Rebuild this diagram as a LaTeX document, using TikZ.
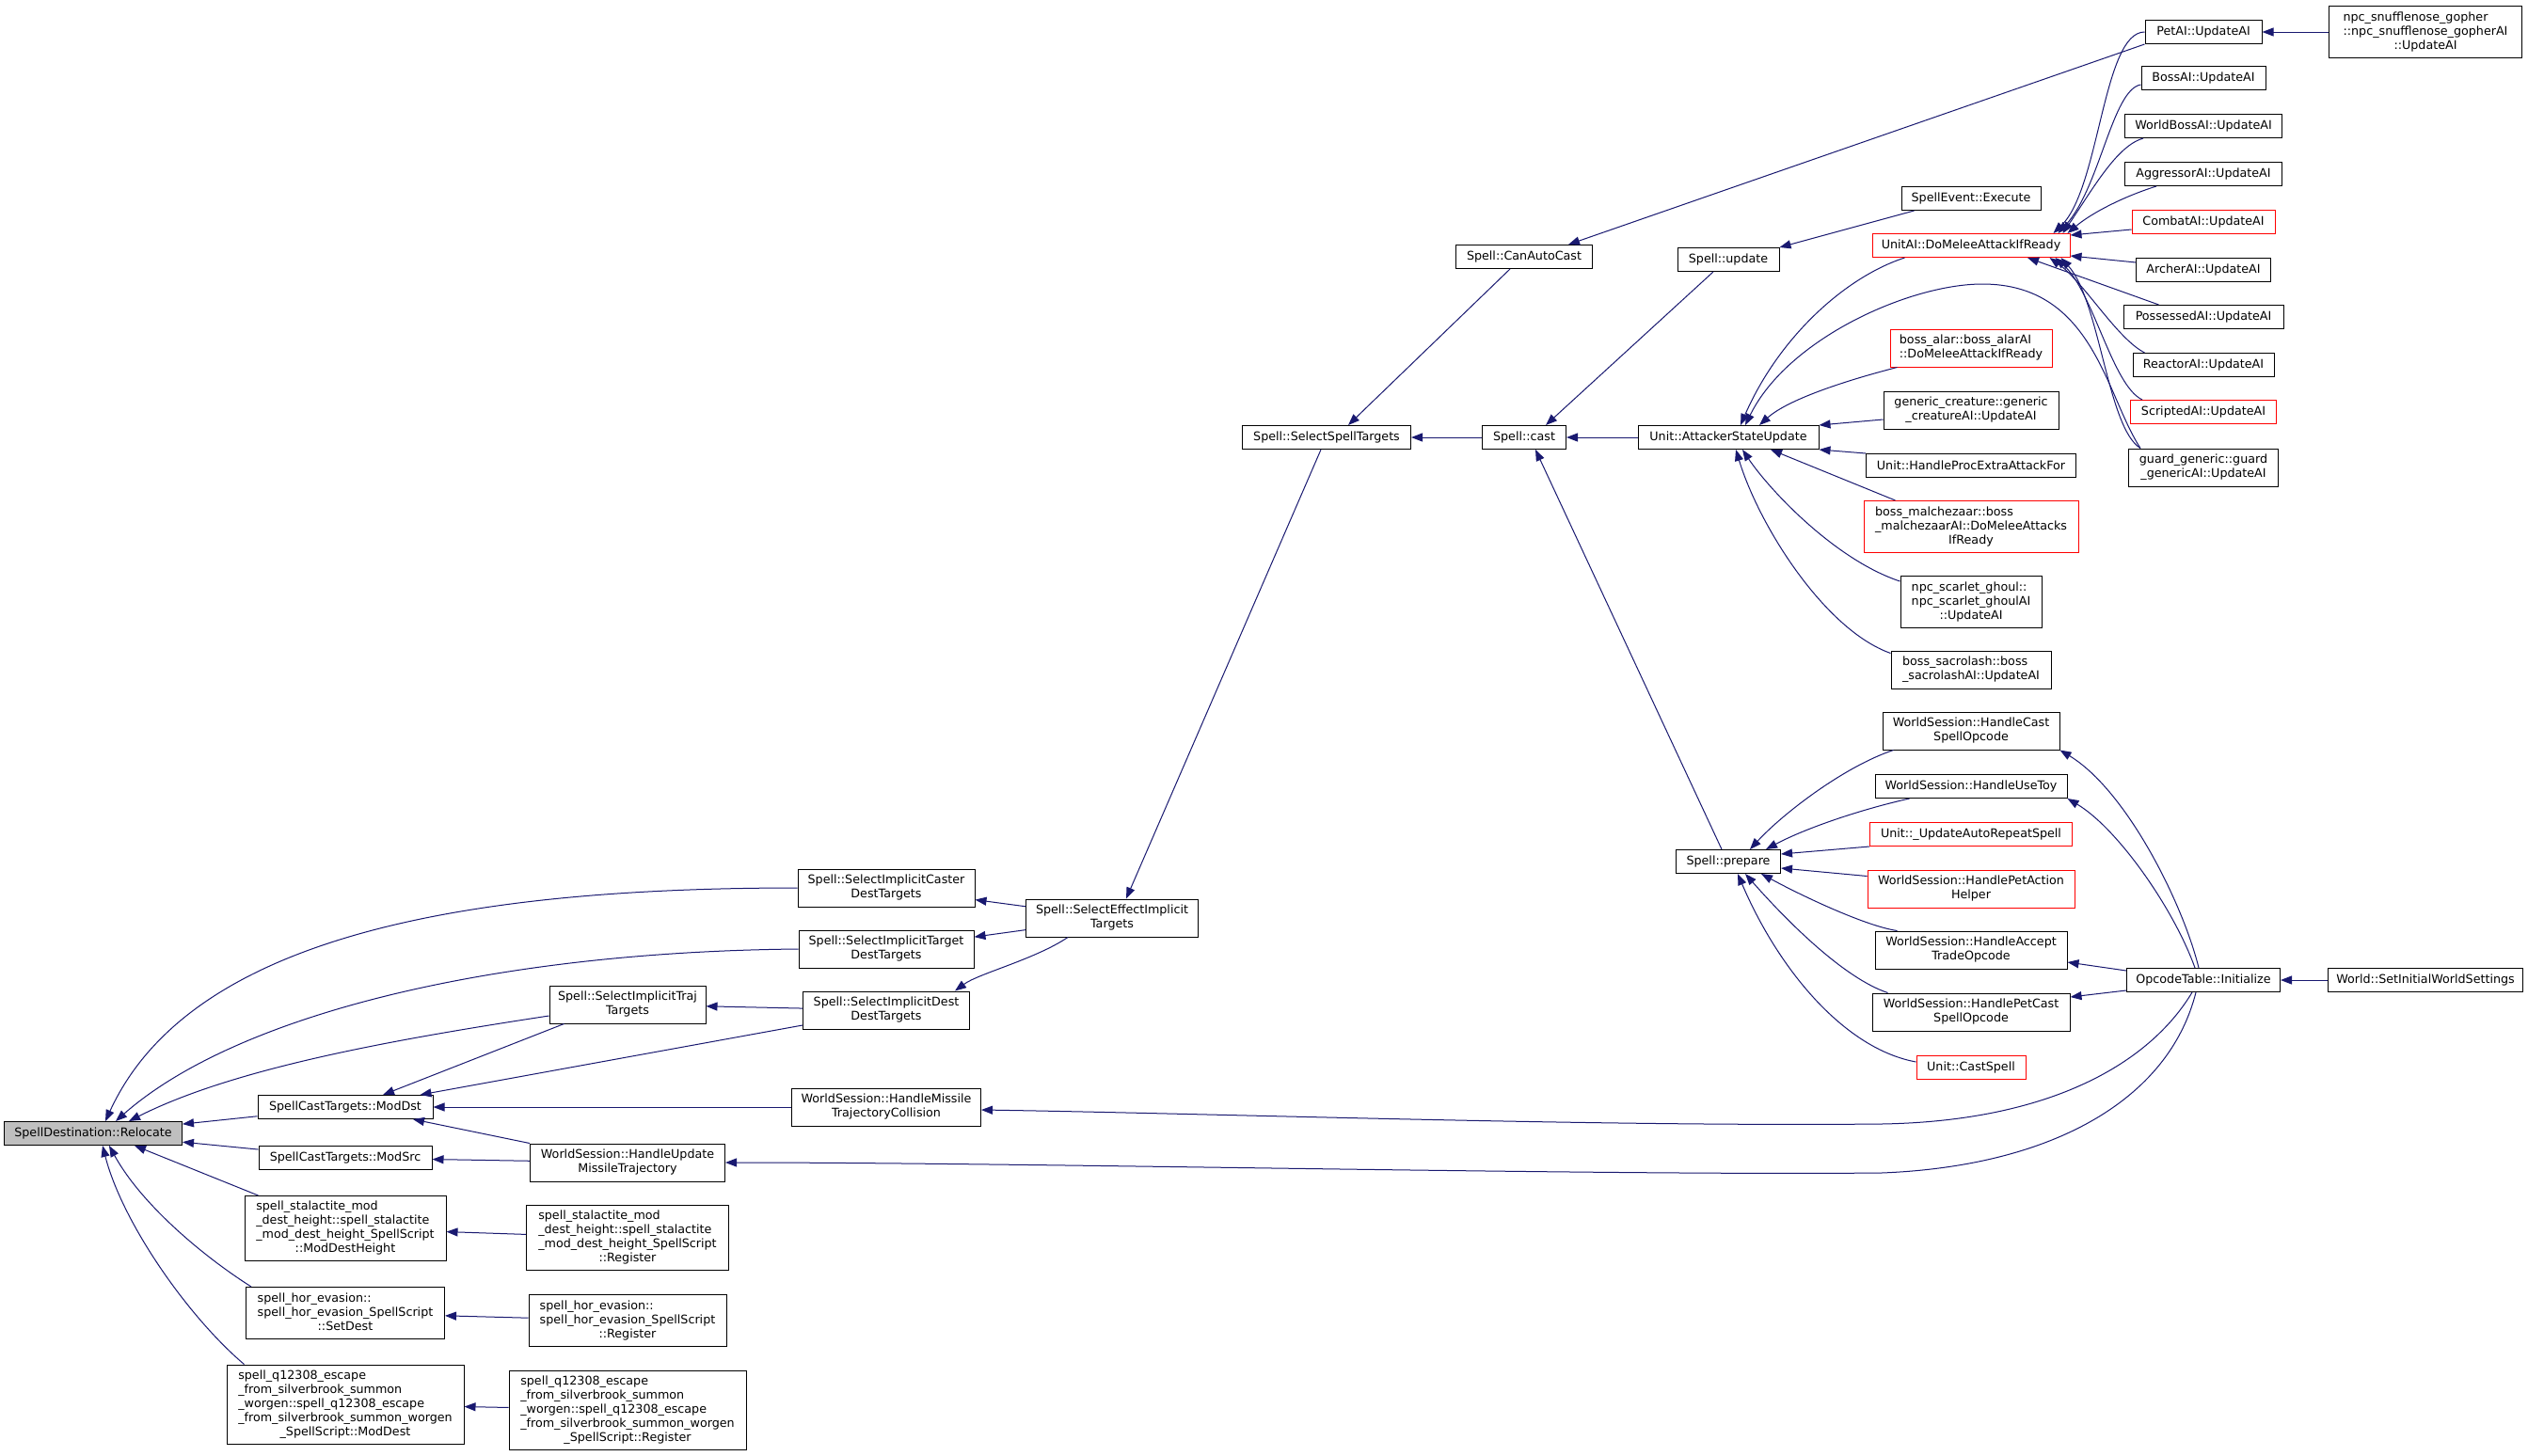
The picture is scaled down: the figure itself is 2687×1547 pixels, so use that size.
\documentclass[tikz,border=0pt]{standalone}
\usepackage{fontspec}
\setmainfont{DejaVu Sans}
\usetikzlibrary{arrows.meta}
\definecolor{edgeblue}{HTML}{191970}
\definecolor{rootgray}{HTML}{BFBFBF}
\newcommand{\fnlines}[2]{\begin{tabular}{@{}l@{}}#1\\\multicolumn{1}{@{}c@{}}{#2}\end{tabular}}
\tikzset{
  fn/.style={draw=black, line width=1pt, fill=white, inner xsep=4pt, inner ysep=0pt, minimum height=25pt, font=\fontsize{12.7}{15}\selectfont},
  trunc/.style={fn, draw=red},
  h2/.style={minimum height=40pt},
  h3/.style={minimum height=55pt},
  h4/.style={minimum height=69pt},
  h5/.style={minimum height=84pt},
  call/.style={draw=edgeblue, line width=1pt, -{Triangle[length=12pt,width=9pt]}}
}
\begin{document}
\begin{tikzpicture}[x=1pt, y=-1pt]
        \path[use as bounding box, fill=white] (0,0) rectangle (2687,1547);
        \node[fn, fill=rootgray, minimum width=189pt] (relocate) at (99,1205) {SpellDestination::Relocate};
        \node[fn, minimum width=186pt] (moddst) at (367,1177) {SpellCastTargets::ModDst};
        \node[fn, minimum width=184pt] (modsrc) at (367,1231) {SpellCastTargets::ModSrc};
        \node[fn, h4, minimum width=214pt] (stalheight) at (367,1306) {\fnlines{spell\_stalactite\_mod\\\_dest\_height::spell\_stalactite\\\_mod\_dest\_height\_SpellScript}{::ModDestHeight}};
        \node[fn, h4, minimum width=215pt] (stalreg) at (667,1316) {\fnlines{spell\_stalactite\_mod\\\_dest\_height::spell\_stalactite\\\_mod\_dest\_height\_SpellScript}{::Register}};
        \node[fn, h3, minimum width=211pt] (horset) at (367,1396) {\fnlines{spell\_hor\_evasion::\\spell\_hor\_evasion\_SpellScript}{::SetDest}};
        \node[fn, h3, minimum width=210pt] (horreg) at (667,1404) {\fnlines{spell\_hor\_evasion::\\spell\_hor\_evasion\_SpellScript}{::Register}};
        \node[fn, h5, minimum width=252pt] (qmod) at (367,1493) {\fnlines{spell\_q12308\_escape\\\_from\_silverbrook\_summon\\\_worgen::spell\_q12308\_escape\\\_from\_silverbrook\_summon\_worgen}{\_SpellScript::ModDest}};
        \node[fn, h5, minimum width=252pt] (qreg) at (667,1499) {\fnlines{spell\_q12308\_escape\\\_from\_silverbrook\_summon\\\_worgen::spell\_q12308\_escape\\\_from\_silverbrook\_summon\_worgen}{\_SpellScript::Register}};
        \node[fn, h2, minimum width=188pt] (caster) at (942,944) {\fnlines{Spell::SelectImplicitCaster}{DestTargets}};
        \node[fn, h2, minimum width=186pt] (target) at (942,1009) {\fnlines{Spell::SelectImplicitTarget}{DestTargets}};
        \node[fn, h2, minimum width=166pt] (traj) at (667,1068) {\fnlines{Spell::SelectImplicitTraj}{Targets}};
        \node[fn, h2, minimum width=177pt] (dest) at (942,1074) {\fnlines{Spell::SelectImplicitDest}{DestTargets}};
        \node[fn, h2, minimum width=201pt] (missilecol) at (942,1177) {\fnlines{WorldSession::HandleMissile}{TrajectoryCollision}};
        \node[fn, h2, minimum width=207pt] (missileupd) at (667,1236) {\fnlines{WorldSession::HandleUpdate}{MissileTrajectory}};
        \node[fn, h2, minimum width=183pt] (effect) at (1182,976) {\fnlines{Spell::SelectEffectImplicit}{Targets}};
        \node[fn, minimum width=179pt] (selspell) at (1410,465) {Spell::SelectSpellTargets};
        \node[fn, minimum width=145pt] (autocast) at (1620,273) {Spell::CanAutoCast};
        \node[fn, minimum width=89pt] (cast) at (1620,465) {Spell::cast};
        \node[fn, minimum width=108pt] (update) at (1837,276) {Spell::update};
        \node[fn, minimum width=192pt] (attacker) at (1837,465) {Unit::AttackerStateUpdate};
        \node[fn, minimum width=111pt] (prepare) at (1837,916) {Spell::prepare};
        \node[fn, minimum width=148pt] (event) at (2095,211) {SpellEvent::Execute};
        \node[trunc, minimum width=210pt] (unitai) at (2095,261) {UnitAI::DoMeleeAttackIfReady};
        \node[trunc, h2, minimum width=172pt] (alar) at (2095,370) {\fnlines{boss\_alar::boss\_alarAI}{::DoMeleeAttackIfReady}};
        \node[fn, h2, minimum width=186pt] (generic) at (2095,436) {\fnlines{generic\_creature::generic}{\_creatureAI::UpdateAI}};
        \node[fn, minimum width=223pt] (extra) at (2095,495) {Unit::HandleProcExtraAttackFor};
        \node[trunc, h3, minimum width=228pt] (malchezaar) at (2095,560) {\fnlines{boss\_malchezaar::boss\\\_malchezaarAI::DoMeleeAttacks}{IfReady}};
        \node[fn, h3, minimum width=150pt] (ghoul) at (2095,640) {\fnlines{npc\_scarlet\_ghoul::\\npc\_scarlet\_ghoulAI}{::UpdateAI}};
        \node[fn, h2, minimum width=170pt] (sacrolash) at (2095,712) {\fnlines{boss\_sacrolash::boss}{\_sacrolashAI::UpdateAI}};
        \node[fn, h2, minimum width=188pt] (wscast) at (2095,777) {\fnlines{WorldSession::HandleCast}{SpellOpcode}};
        \node[fn, minimum width=204pt] (usetoy) at (2095,836) {WorldSession::HandleUseToy};
        \node[trunc, minimum width=215pt] (autorepeat) at (2095,887) {Unit::\_UpdateAutoRepeatSpell};
        \node[trunc, h2, minimum width=220pt] (petaction) at (2095,945) {\fnlines{WorldSession::HandlePetAction}{Helper}};
        \node[fn, h2, minimum width=204pt] (accept) at (2095,1010) {\fnlines{WorldSession::HandleAccept}{TradeOpcode}};
        \node[fn, h2, minimum width=210pt] (petcast) at (2095,1076) {\fnlines{WorldSession::HandlePetCast}{SpellOpcode}};
        \node[trunc, minimum width=116pt] (castspell) at (2095,1135) {Unit::CastSpell};
        \node[fn, minimum width=124pt] (petai) at (2342,34) {PetAI::UpdateAI};
        \node[fn, minimum width=132pt] (bossai) at (2342,83) {BossAI::UpdateAI};
        \node[fn, minimum width=167pt] (worldboss) at (2342,134) {WorldBossAI::UpdateAI};
        \node[fn, minimum width=167pt] (aggressor) at (2342,185) {AggressorAI::UpdateAI};
        \node[trunc, minimum width=152pt] (combat) at (2342,236) {CombatAI::UpdateAI};
        \node[fn, minimum width=143pt] (archer) at (2342,287) {ArcherAI::UpdateAI};
        \node[fn, minimum width=170pt] (possessed) at (2342,337) {PossessedAI::UpdateAI};
        \node[fn, minimum width=150pt] (reactor) at (2342,388) {ReactorAI::UpdateAI};
        \node[trunc, minimum width=155pt] (scripted) at (2342,438) {ScriptedAI::UpdateAI};
        \node[fn, h2, minimum width=159pt] (guard) at (2342,497) {\fnlines{guard\_generic::guard}{\_genericAI::UpdateAI}};
        \node[fn, h3, minimum width=205pt] (gopher) at (2578,34) {\fnlines{npc\_snufflenose\_gopher\\::npc\_snufflenose\_gopherAI}{::UpdateAI}};
        \node[fn, minimum width=163pt] (opcode) at (2342,1042) {OpcodeTable::Initialize};
        \node[fn, minimum width=207pt] (world) at (2578,1042) {World::SetInitialWorldSettings};
        \draw[call] (caster.west) .. controls (480,944) and (200,1000) .. ([xshift=13pt]relocate.north);
        \draw[call] (target.west) .. controls (520,1012) and (250,1080) .. ([xshift=24pt]relocate.north);
        \draw[call] ([yshift=-12pt]traj.west) .. controls (420,1105) and (250,1135) .. ([xshift=38pt]relocate.north);
        \draw[call] (moddst) -- (relocate);
        \draw[call] (modsrc) -- (relocate);
        \draw[call] ([xshift=15pt]stalheight.north west) -- ([xshift=44pt]relocate.south);
        \draw[call] ([xshift=6pt]horset.north west) .. controls (215,1335) and (150,1280) .. ([xshift=17pt]relocate.south);
        \draw[call] ([xshift=19pt]qmod.north west) .. controls (200,1400) and (130,1300) .. ([xshift=10pt]relocate.south);
        \draw[call] (dest) -- (traj);
        \draw[call] ([xshift=16pt]traj.south west) -- ([xshift=40pt]moddst.north);
        \draw[call] ([yshift=-16pt]dest.west) -- ([xshift=-14pt]moddst.north east);
        \draw[call] (missilecol) -- (moddst);
        \draw[call] (missileupd.north west) -- ([xshift=72pt]moddst.south);
        \draw[call] (missileupd) -- (modsrc);
        \draw[call] (stalreg) -- (stalheight);
        \draw[call] (horreg) -- (horset);
        \draw[call] (qreg) -- (qmod);
        \draw[call] (effect) -- (caster);
        \draw[call] (effect) -- (target);
        \draw[call] ([xshift=-47pt]effect.south) .. controls (1100,1020) and (1040,1035) .. ([xshift=73pt]dest.north);
        \draw[call] ([xshift=-6pt]selspell.south) -- ([xshift=15pt]effect.north);
        \draw[call] ([xshift=-15pt]autocast.south) -- ([xshift=23pt]selspell.north);
        \draw[call] (cast) -- (selspell);
        \draw[call] ([xshift=-16pt]update.south) -- ([xshift=23pt]cast.north);
        \draw[call] (attacker) -- (cast);
        \draw[call] ([xshift=-7pt]prepare.north) -- ([xshift=12pt]cast.south);
        \draw[call] (petai.south west) -- ([xshift=47pt]autocast.north);
        \draw[call] ([xshift=14pt]event.south west) -- (update.north east);
        \draw[call] ([xshift=35pt]unitai.south west) .. controls (1960,295) and (1890,360) .. ([xshift=13pt]attacker.north);
        \draw[call] ([xshift=13pt]guard.north west) .. controls (2238,420) and (2225,302) .. (2107,302) .. controls (2030,302) and (1900,360) .. ([xshift=18pt]attacker.north);
        \draw[call] ([xshift=8pt]alar.south west) .. controls (1960,405) and (1900,425) .. ([xshift=33pt]attacker.north);
        \draw[call] ([yshift=-10pt]generic.west) -- (attacker.north east);
        \draw[call] (extra.north west) -- (attacker.south east);
        \draw[call] ([xshift=34pt]malchezaar.north west) -- ([xshift=45pt]attacker.south);
        \draw[call] ([yshift=-6pt]ghoul.north west) .. controls (1950,595) and (1880,520) .. ([xshift=15pt]attacker.south);
        \draw[call] ([yshift=-3pt]sacrolash.north west) .. controls (1940,670) and (1870,560) .. ([xshift=8pt]attacker.south);
        \draw[call] (petai.west) .. controls (2235,34) and (2232,200) .. ([xshift=-18pt]unitai.north east);
        \draw[call] ([yshift=-7pt]bossai.west) .. controls (2245,95) and (2232,200) .. ([xshift=-13pt]unitai.north east);
        \draw[call] ([xshift=20pt]worldboss.south west) .. controls (2250,155) and (2225,200) .. ([xshift=-8pt]unitai.north east);
        \draw[call] ([xshift=34pt]aggressor.south west) .. controls (2260,208) and (2225,225) .. ([xshift=-3pt]unitai.north east);
        \draw[call] ([yshift=-8pt]combat.west) -- ([yshift=11pt]unitai.east);
        \draw[call] ([yshift=8pt]archer.west) -- ([yshift=-11pt]unitai.east);
        \draw[call] ([xshift=38pt]possessed.north west) -- ([xshift=60pt]unitai.south);
        \draw[call] ([xshift=13pt]reactor.north west) .. controls (2250,360) and (2215,300) .. ([xshift=-22pt]unitai.south east);
        \draw[call] ([xshift=13pt]scripted.north west) .. controls (2245,410) and (2225,310) .. ([xshift=-16pt]unitai.south east);
        \draw[call] ([xshift=13pt]guard.north west) .. controls (2240,455) and (2232,320) .. ([xshift=-10pt]unitai.south east);
        \draw[call] (gopher) -- (petai);
        \draw[call] ([xshift=12pt]wscast.south west) .. controls (1960,815) and (1895,865) .. ([xshift=23pt]prepare.north);
        \draw[call] ([xshift=37pt]usetoy.south west) .. controls (1980,860) and (1920,880) .. ([xshift=40pt]prepare.north);
        \draw[call] (autorepeat.south west) -- ([yshift=8pt]prepare.east);
        \draw[call] ([yshift=-7pt]petaction.north west) -- ([yshift=-7pt]prepare.east);
        \draw[call] ([xshift=24pt]accept.north west) .. controls (1985,985) and (1920,955) .. ([xshift=35pt]prepare.south);
        \draw[call] ([xshift=17pt]petcast.north west) .. controls (1960,1040) and (1900,980) .. ([xshift=18pt]prepare.south);
        \draw[call] ([yshift=6pt]castspell.west) .. controls (1960,1115) and (1890,1030) .. ([xshift=10pt]prepare.south);
        \draw[call] ([xshift=-5pt]opcode.north) .. controls (2320,960) and (2260,840) .. (wscast.south east);
        \draw[call] ([xshift=-9pt]opcode.north) .. controls (2310,965) and (2250,880) .. (usetoy.south east);
        \draw[call] ([yshift=10pt]opcode.west) -- ([yshift=-13pt]accept.east);
        \draw[call] ([yshift=-11pt]opcode.west) -- ([yshift=16pt]petcast.east);
        \draw[call] ([xshift=-12pt]opcode.south) .. controls (2285,1130) and (2180,1192) .. (2000,1195) .. controls (1700,1198) and (1300,1184) .. ([yshift=-3pt]missilecol.east);
        \draw[call] ([xshift=-8pt]opcode.south) .. controls (2305,1170) and (2180,1240) .. (2000,1247) .. controls (1700,1250) and (1100,1236) .. (missileupd.east);
        \draw[call] (world) -- (opcode);
      \end{tikzpicture}
\end{document}
